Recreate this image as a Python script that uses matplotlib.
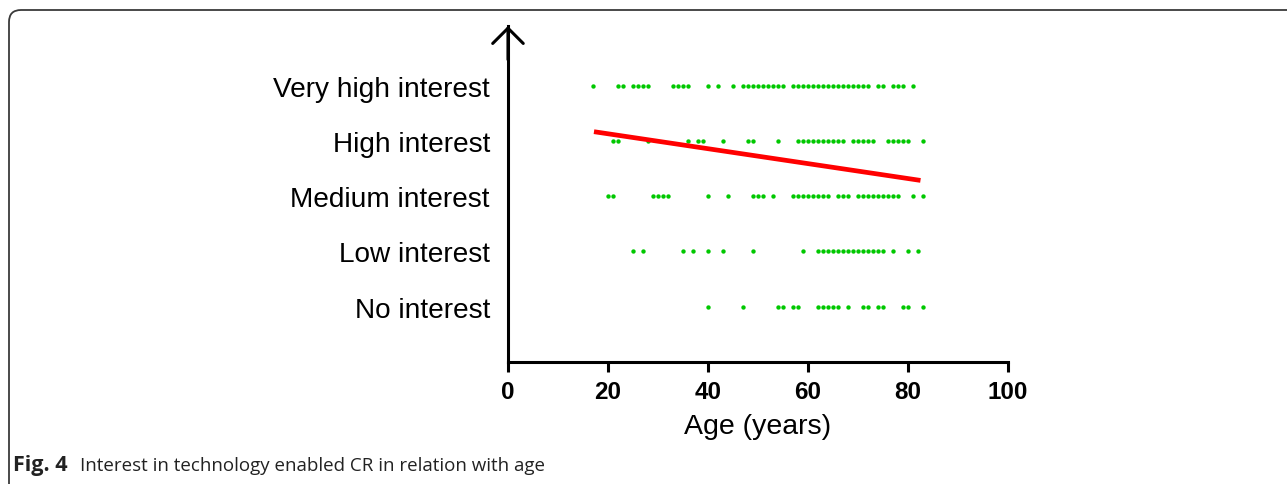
import matplotlib
matplotlib.use("Agg")
import matplotlib.pyplot as plt
from matplotlib.patches import FancyBboxPatch
from matplotlib.transforms import IdentityTransform

# interest levels (1 = no interest ... 5 = very high interest)
levels = ["No interest", "Low interest", "Medium interest", "High interest", "Very high interest"]

ages_no = [40, 47, 54, 55, 57, 58, 62, 63, 64, 65, 66, 68, 71, 72, 74, 75, 79, 80, 83]
ages_low = [25, 27, 35, 37, 40, 43, 49, 59, 62, 63, 64, 65, 66, 67, 68, 69, 70, 71, 72,
            73, 74, 75, 77, 80, 82]
ages_medium = [20, 21, 29, 30, 31, 32, 40, 44, 49, 50, 51, 53, 57, 58, 59, 60, 61, 62, 63,
               64, 66, 67, 68, 70, 71, 72, 73, 74, 75, 76, 77, 78, 81, 83]
ages_high = [21, 22, 28, 36, 38, 39, 43, 48, 49, 54, 58, 59, 60, 61, 62, 63, 64, 65, 66,
             67, 69, 70, 71, 72, 73, 76, 77, 78, 79, 80, 83]
ages_very_high = [17, 22, 23, 25, 26, 27, 28, 33, 34, 35, 36, 40, 42, 45, 47, 48, 49, 50,
                  51, 52, 53, 54, 55, 57, 58, 59, 60, 61, 62, 63, 64, 65, 66, 67, 68, 69,
                  70, 71, 72, 74, 75, 77, 78, 79, 81]

# linear fit shown in the figure
fit_ages = [17.2, 82.5]
fit_intercept = 4.40
fit_slope = -0.0135

x_ticks = [0, 20, 40, 60, 80, 100]

fig = plt.figure(figsize=(12.87, 4.85), dpi=100)
ax = fig.add_axes([0.3947, 0.2515, 0.3885, 0.6928])

groups = [ages_no, ages_low, ages_medium, ages_high, ages_very_high]
for level, ages in enumerate(groups, start=1):
    ax.scatter(ages, [level] * len(ages), s=10, color="#00c800", linewidths=0, zorder=3)

fit_values = [fit_intercept + fit_slope * a for a in fit_ages]
ax.plot(fit_ages, fit_values, color="#ff0000", lw=3.4, solid_capstyle="butt", zorder=4)

ax.set_xlim(0, 100)
ax.set_ylim(0, 6.08)
ax.set_xticks(x_ticks)
ax.set_xticklabels([str(t) for t in x_ticks], family="Liberation Sans",
                   fontweight="bold", fontsize=17.5)
ax.set_yticks(range(1, len(levels) + 1))
ax.set_yticklabels(levels, family="Liberation Sans", fontsize=20.2)
ax.tick_params(axis="x", length=7.2, width=2.2, pad=6)
ax.tick_params(axis="y", length=0, pad=13)
ax.set_xlabel("Age (years)", family="Liberation Sans", fontsize=20.5, labelpad=7)

for side in ["top", "right"]:
    ax.spines[side].set_visible(False)
for side in ["left", "bottom"]:
    ax.spines[side].set_linewidth(2.2)
    ax.spines[side].set_capstyle("projecting")

# open arrow head on top of the y axis
ax.annotate("", xy=(0, 1.0), xytext=(0, 0.9), xycoords="axes fraction",
            arrowprops=dict(arrowstyle="->,head_length=0.55,head_width=0.55",
                            mutation_scale=20, lw=2.2, color="black",
                            shrinkA=0, shrinkB=0),
            annotation_clip=False)

# rounded frame of the figure panel
frame = FancyBboxPatch((9, -30), 1320, 504, boxstyle="round,pad=0,rounding_size=12",
                       transform=IdentityTransform(), fill=False, lw=1.3, ec="#3a3a3a")
fig.add_artist(frame)

fig.text(13 / 1287, 14 / 485, "Fig. 4", family="Open Sans", fontweight="bold",
         fontsize=15.5, va="baseline", color="#222222")
fig.text(80 / 1287, 14 / 485, "Interest in technology enabled CR in relation with age",
         family="Open Sans", fontsize=13.5, va="baseline", color="#222222")

fig.savefig("out.png", dpi=100)
